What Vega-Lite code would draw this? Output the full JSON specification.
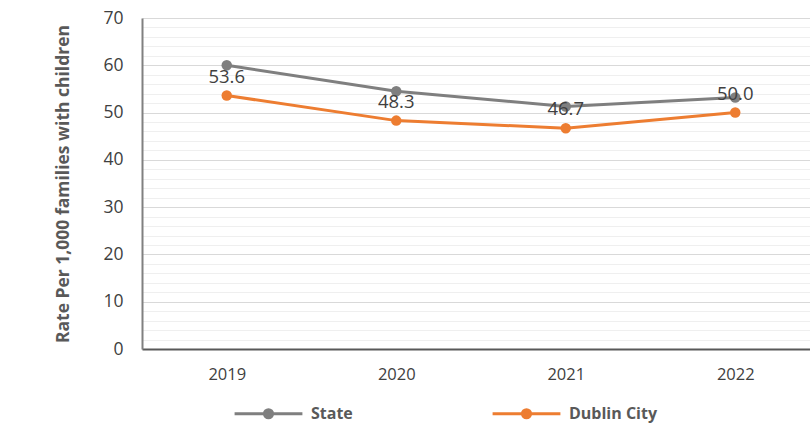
{
  "$schema": "https://vega.github.io/schema/vega-lite/v6.json",
  "autosize": {"type": "none"},
  "padding": {"left": 142, "top": 18, "right": 0, "bottom": 77},
  "width": 678,
  "height": 331,
  "background": "white",
  "config": {
    "view": {"stroke": null},
    "font": "Open Sans",
    "axis": {"labelFont": "Open Sans", "titleFont": "Open Sans", "labelColor": "#404040", "titleColor": "#404040"}
  },
  "data": {
    "values": [
      {"year": "2019", "series": "State", "value": 60.0},
      {"year": "2020", "series": "State", "value": 54.5},
      {"year": "2021", "series": "State", "value": 51.3},
      {"year": "2022", "series": "State", "value": 53.2},
      {"year": "2019", "series": "Dublin City", "value": 53.6},
      {"year": "2020", "series": "Dublin City", "value": 48.3},
      {"year": "2021", "series": "Dublin City", "value": 46.7},
      {"year": "2022", "series": "Dublin City", "value": 50.0}
    ]
  },
  "encoding": {
    "x": {
      "field": "year", "type": "ordinal", "title": null,
      "scale": {"paddingInner": 0, "paddingOuter": 0},
      "axis": {"labelAngle": 0, "labelFontSize": 16.5, "labelPadding": 17, "ticks": false, "domainColor": "#595959", "domainWidth": 2, "grid": false}
    },
    "y": {
      "field": "value", "type": "quantitative",
      "title": "Rate Per 1,000 families with children",
      "scale": {"domain": [0, 70], "nice": false},
      "axis": {
        "values": [0,2,4,6,8,10,12,14,16,18,20,22,24,26,28,30,32,34,36,38,40,42,44,46,48,50,52,54,56,58,60,62,64,66,68,70],
        "labelExpr": "datum.value % 10 === 0 ? datum.label : ''",
        "labelFontSize": 17.5, "labelPadding": 19, "ticks": false,
        "domainColor": "#808080", "domainWidth": 2,
        "grid": true,
        "gridColor": {"condition": {"test": "datum.value % 10 === 0", "value": "#d9d9d9"}, "value": "#efefef"},
        "gridWidth": 1.2,
        "titleFontSize": 17.5, "titleFontWeight": "bold", "titleColor": "#595959", "titlePadding": 30
      }
    },
    "color": {
      "field": "series", "type": "nominal",
      "scale": {"domain": ["State", "Dublin City"], "range": ["#7f7f7f", "#ed7d31"]},
      "legend": {
        "title": null, "orient": "none", "direction": "horizontal",
        "legendX": 91, "legendY": 360,
        "columns": 2, "columnPadding": 133,
        "symbolType": "M-1,0H1M-0.12,0a0.12,0.12 0 1,0 0.24,0a0.12,0.12 0 1,0 -0.24,0",
        "symbolSize": 4600, "symbolStrokeWidth": 3,
        "labelFont": "Open Sans", "labelFontSize": 16, "labelFontWeight": "bold", "labelColor": "#595959", "labelOffset": 7
      }
    }
  },
  "layer": [
    {"mark": {"type": "line", "strokeWidth": 3}},
    {"mark": {"type": "point", "filled": true, "size": 110, "opacity": 1}},
    {
      "transform": [{"filter": "datum.series === 'Dublin City'"}],
      "mark": {"type": "text", "dy": -19, "fontSize": 18.5, "font": "Open Sans"},
      "encoding": {
        "text": {"field": "value", "type": "quantitative", "format": ".1f"},
        "color": {"value": "#404040"}
      }
    }
  ]
}
